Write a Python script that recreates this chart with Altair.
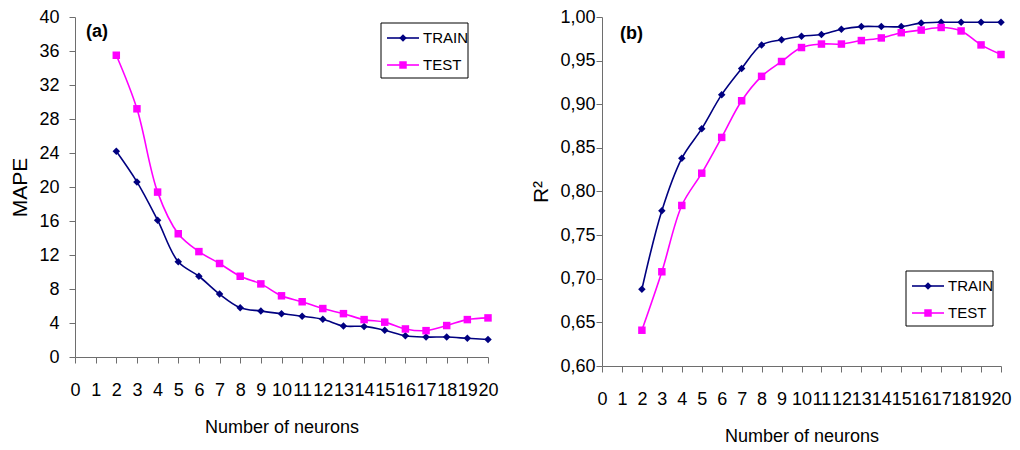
import altair as alt
import pandas as pd

# Number of hidden neurons
neurons = list(range(2, 21))

# (a) Mean absolute percentage error
mape_train = [24.2, 20.6, 16.1, 11.2, 9.5, 7.4, 5.8, 5.4, 5.1, 4.8, 4.45,
              3.65, 3.6, 3.15, 2.5, 2.35, 2.35, 2.2, 2.05]
mape_test = [35.5, 29.2, 19.4, 14.5, 12.4, 11.0, 9.5, 8.6, 7.2, 6.5, 5.7,
             5.1, 4.4, 4.1, 3.3, 3.1, 3.7, 4.4, 4.6]

# (b) Coefficient of determination
r2_train = [0.688, 0.778, 0.838, 0.872, 0.911, 0.941, 0.968, 0.974, 0.978, 0.980,
            0.986, 0.989, 0.989, 0.989, 0.993, 0.994, 0.994, 0.994, 0.994]
r2_test = [0.641, 0.708, 0.784, 0.821, 0.862, 0.904, 0.932, 0.949, 0.965, 0.969,
           0.969, 0.973, 0.976, 0.982, 0.985, 0.988, 0.984, 0.968, 0.957]

series_names = ["TRAIN", "TEST"]
series_colors = ["#000080", "#ff00ff"]
series_shapes = ["diamond", "square"]
x_ticks = list(range(0, 21))
mape_ticks = list(range(0, 41, 4))
r2_ticks = [0.60, 0.65, 0.70, 0.75, 0.80, 0.85, 0.90, 0.95, 1.00]

FONT = "Liberation Sans, Arial, sans-serif"
AXIS_GREY = "#6e6e6e"


def long_frame(train, test):
    return pd.DataFrame({
        "n": neurons * 2,
        "v": train + test,
        "series": ["TRAIN"] * len(train) + ["TEST"] * len(test),
    })


def x_axis():
    return alt.Axis(values=x_ticks, title="Number of neurons", grid=False,
                    labelOverlap=False, labelBound=False, labelFlush=False,
                    tickSize=6, labelPadding=18, titlePadding=19,
                    labelFont=FONT, labelFontSize=18, titleFont=FONT,
                    titleFontSize=18, titleFontWeight="normal",
                    domainColor=AXIS_GREY, tickColor=AXIS_GREY,
                    labelColor="#000", titleColor="#000")


def panel(df, ymin, ymax, yticks, ytitle, label_expr, ylab_pad, ytitle_pad,
          tag, tag_x, tag_y, leg_x, leg_y, w, h):
    color = alt.Color("series:N", legend=None,
                      scale=alt.Scale(domain=series_names, range=series_colors))
    shape = alt.Shape("series:N", legend=None,
                      scale=alt.Scale(domain=series_names, range=series_shapes))
    yaxis = alt.Axis(values=yticks, title=ytitle, grid=False, labelExpr=label_expr,
                     tickSize=6, labelPadding=ylab_pad, titlePadding=ytitle_pad,
                     labelFont=FONT, labelFontSize=18, titleFont=FONT,
                     titleFontSize=21, titleFontWeight="normal",
                     domainColor=AXIS_GREY, tickColor=AXIS_GREY,
                     labelColor="#000", titleColor="#000", labelFlush=False)
    base = alt.Chart(df).encode(
        x=alt.X("n:Q", scale=alt.Scale(domain=[0, 20], nice=False), axis=x_axis()),
        y=alt.Y("v:Q", scale=alt.Scale(domain=[ymin, ymax], nice=False, zero=False),
                axis=yaxis),
        color=color,
        detail="series:N",
    )
    lines = base.mark_line(interpolate="catmull-rom", strokeWidth=1.6)
    pts = base.mark_point(filled=True, opacity=1, size=56).encode(shape=shape)

    one = alt.Chart(pd.DataFrame({"k": [0]}))
    tag_mark = one.mark_text(text=tag, font=FONT, fontSize=18, fontWeight="bold",
                             align="left", baseline="middle", color="#000").encode(
        x=alt.value(tag_x), y=alt.value(tag_y))

    # legend box with a line+marker sample per series
    box = one.mark_rect(fill="white", stroke="#000", strokeWidth=1).encode(
        x=alt.value(leg_x), x2=alt.value(leg_x + 87),
        y=alt.value(leg_y), y2=alt.value(leg_y + 55))
    legend_layers = [box]
    for i, name in enumerate(series_names):
        ry = leg_y + 15 + 27 * i
        legend_layers.append(one.mark_rule(color=series_colors[i], strokeWidth=1.6).encode(
            x=alt.value(leg_x + 6), x2=alt.value(leg_x + 38), y=alt.value(ry)))
        legend_layers.append(one.mark_point(filled=True, opacity=1, size=56,
                                            shape=series_shapes[i],
                                            color=series_colors[i]).encode(
            x=alt.value(leg_x + 22), y=alt.value(ry)))
        legend_layers.append(one.mark_text(text=name, font=FONT, fontSize=15,
                                           align="left", baseline="middle",
                                           color="#000").encode(
            x=alt.value(leg_x + 42), y=alt.value(ry)))

    return alt.layer(lines, pts, tag_mark, *legend_layers).properties(width=w, height=h)


left = panel(long_frame(mape_train, mape_test), 0, 40, mape_ticks, "MAPE",
             "format(datum.value, 'd')", 10, 8, "(a)", 11, 15, 306, 6, 413, 340)
right = panel(long_frame(r2_train, r2_test), 0.60, 1.00, r2_ticks, "R²",
              "replace(format(datum.value, '.2f'), '.', ',')", 1, 8, "(b)", 18, 17,
              304, 254, 399, 349)

chart = alt.hconcat(left, right, spacing=31).properties(
    padding={"left": 9, "top": 8, "right": 5, "bottom": 5},
    background="white",
).configure_view(stroke=None)

chart.save("out.html", embed_options={"renderer": "svg", "actions": False})
